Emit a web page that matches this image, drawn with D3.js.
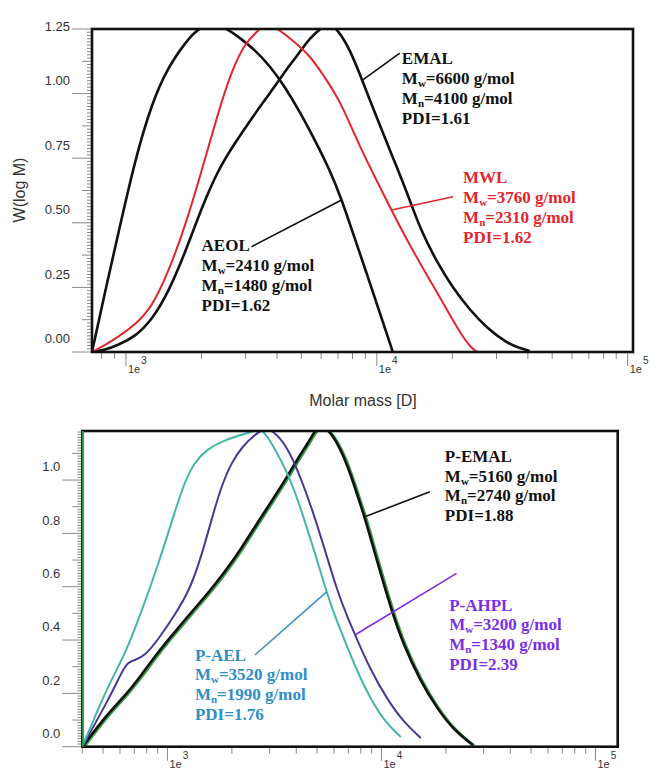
<!DOCTYPE html>
<html>
<head>
<meta charset="utf-8">
<script src="https://cdn.jsdelivr.net/npm/d3@7"></script>
<style>
    body { margin: 0; background: #fff; }
    .lbl { font-family: "Liberation Serif", "Times New Roman", serif; font-weight: bold; font-size: 17px; }
    .tick { font-family: "Liberation Sans", Arial, sans-serif; fill: #333; }
</style>
</head>
<body>
<div id="chart"></div>
<script>
// top panel - molar mass (g/mol) and W(log M)
var aeolM = [732, 825, 932, 1086, 1266, 1474, 1719, 1971, 2435, 2846, 3266, 3748, 4300, 4934, 5662, 6495, 7255, 8024, 9099, 10280, 11446, 11580]
var aeolW = [0, 0.233, 0.459, 0.743, 0.962, 1.104, 1.195, 1.265, 1.265, 1.215, 1.169, 1.107, 1.026, 0.929, 0.820, 0.704, 0.588, 0.461, 0.306, 0.151, 0.015, 0]

var mwlM = [732, 825, 929, 1086, 1269, 1470, 1719, 2008, 2326, 2645, 2980, 3357, 3515, 3853, 4502, 5409, 6206, 7121, 8557, 10280, 12350, 14840, 17820, 21420, 23900, 25260]
var mwlW = [0, 0.027, 0.058, 0.104, 0.174, 0.306, 0.484, 0.704, 0.925, 1.091, 1.196, 1.242, 1.265, 1.265, 1.215, 1.149, 1.062, 0.975, 0.793, 0.639, 0.484, 0.344, 0.213, 0.074, 0.012, 0]

var emalM = [732, 825, 929, 1086, 1269, 1470, 1719, 2008, 2326, 2719, 3177, 3679, 4106, 4502, 4934, 5409, 5929, 6300, 6700, 7255, 7804, 8557, 9377, 10570, 12010, 13540, 14840, 17340, 20090, 23480, 27440, 32960, 37120, 40700]
var emalW = [0, 0.008, 0.027, 0.059, 0.124, 0.228, 0.383, 0.561, 0.704, 0.809, 0.906, 0.991, 1.057, 1.111, 1.161, 1.215, 1.25, 1.265, 1.265, 1.223, 1.169, 1.076, 0.975, 0.848, 0.716, 0.588, 0.480, 0.348, 0.248, 0.163, 0.093, 0.035, 0.015, 0.004]

// bottom panel
var pemalM = [400, 528, 632, 756, 904, 1082, 1294, 1548, 1853, 2221, 2647, 3178, 3615, 4158, 4630, 4992, 5550, 6394, 7118, 7759, 8365, 9022, 9829, 11240, 12590, 15110, 18150, 21560, 26720]
var pemalW = [0, 0.126, 0.190, 0.269, 0.355, 0.430, 0.505, 0.576, 0.655, 0.745, 0.843, 0.940, 1.011, 1.094, 1.150, 1.200, 1.200, 1.124, 1.030, 0.937, 0.858, 0.765, 0.660, 0.502, 0.389, 0.250, 0.145, 0.066, 0.006]

var pahplM = [400, 538, 612, 655, 704, 783, 901, 1082, 1272, 1447, 1628, 1794, 1998, 2249, 2558, 2850, 3115, 3598, 4152, 4791, 5533, 6162, 6862, 7643, 8815, 10550, 12620, 15260]
var pahplW = [0, 0.186, 0.281, 0.318, 0.325, 0.340, 0.400, 0.494, 0.588, 0.719, 0.869, 0.981, 1.068, 1.128, 1.170, 1.195, 1.185, 1.131, 1.019, 0.881, 0.719, 0.594, 0.494, 0.407, 0.294, 0.182, 0.094, 0.033]

var paelM = [400, 528, 632, 756, 904, 1082, 1204, 1342, 1548, 1853, 2217, 2558, 2763, 3110, 3694, 4248, 4923, 5470, 6026, 6675, 7593, 8829, 10370, 12320]
var paelW = [0, 0.231, 0.344, 0.506, 0.681, 0.881, 0.994, 1.069, 1.119, 1.150, 1.170, 1.185, 1.195, 1.131, 1.019, 0.881, 0.719, 0.594, 0.494, 0.406, 0.294, 0.183, 0.093, 0.036]

// label texts
var topNames = ["EMAL", "MWL", "AEOL"]
var topMw = ["6600", "3760", "2410"]
var topMn = ["4100", "2310", "1480"]
var topPdi = ["1.61", "1.62", "1.62"]

var botNames = ["P-EMAL", "P-AHPL", "P-AEL"]
var botMw = ["5160", "3200", "3520"]
var botMn = ["2740", "1340", "1990"]
var botPdi = ["1.88", "2.39", "1.76"]

function zip(m, w) {
    return m.map(function (d, i) { return [d, w[i]] })
}

var svg = d3.select("#chart").append("svg")
    .attr("width", 652)
    .attr("height", 772)

function panel(cfg) {
    var x = d3.scaleLog().domain(cfg.xDomain).range(cfg.xRange)
    var y = d3.scaleLinear().domain(cfg.yDomain).range(cfg.yRange)
    var g = svg.append("g")
    var left = cfg.xRange[0], right = cfg.xRange[1], top = cfg.yRange[1], bottom = cfg.yRange[0]

    // y ticks: major / half / minor
    var step = cfg.yMajor / 20
    for (var i = 0; i * step <= cfg.yDomain[1] + 1e-9; i++) {
        var v = i * step
        var len = (i % 20 === 0) ? 20 : (i % 10 === 0 ? 10 : 5)
        g.append("line")
            .attr("x1", left - len).attr("x2", left)
            .attr("y1", y(v)).attr("y2", y(v))
            .attr("stroke", "#888").attr("stroke-width", 1)
        if (i % 20 === 0) {
            g.append("text").attr("class", "tick")
                .attr("x", left - 22)
                .attr("y", Math.max(y(v) - 12, top - 1))
                .attr("text-anchor", "end")
                .attr("dominant-baseline", "middle")
                .attr("font-size", 13)
                .text(d3.format(cfg.yFmt)(v))
        }
    }

    // x ticks (log)
    x.ticks().forEach(function (v) {
        var e = Math.log10(v)
        var major = Math.abs(e - Math.round(e)) < 1e-9
        g.append("line")
            .attr("x1", x(v)).attr("x2", x(v))
            .attr("y1", bottom).attr("y2", bottom + (major ? 14 : 7))
            .attr("stroke", "#888").attr("stroke-width", 1)
        if (major) {
            var t = g.append("text").attr("class", "tick")
                .attr("x", x(v) + 2).attr("y", bottom + 21)
                .attr("font-size", 11)
            t.append("tspan").text("1e")
            t.append("tspan").attr("dx", 1).attr("dy", -9).attr("font-size", 10).text(Math.round(e))
        }
    })

    // curves
    var clipId = "clip" + cfg.id
    svg.append("clipPath").attr("id", clipId)
        .append("rect").attr("x", left).attr("y", top)
        .attr("width", right - left).attr("height", bottom - top)

    var line = d3.line()
        .x(function (d) { return x(d[0]) })
        .y(function (d) { return y(d[1]) })
        .curve(d3.curveBasis)

    var cg = g.append("g").attr("clip-path", "url(#" + clipId + ")")
    cfg.series.forEach(function (s) {
        if (s.shadow) {
            cg.append("path").datum(s.data)
                .attr("d", line)
                .attr("fill", "none")
                .attr("stroke", s.shadow)
                .attr("stroke-width", s.width)
                .attr("transform", "translate(1.6,0.6)")
        }
        cg.append("path").datum(s.data)
            .attr("d", line)
            .attr("fill", "none")
            .attr("stroke", s.color)
            .attr("stroke-width", s.width)
            .attr("stroke-linejoin", "round")
    })

    // frame
    g.append("rect")
        .attr("x", left).attr("y", top)
        .attr("width", right - left).attr("height", bottom - top)
        .attr("fill", "none").attr("stroke", "#111").attr("stroke-width", 2.6)
    if (cfg.leftEdge) {
        g.append("line")
            .attr("x1", left + 0.5).attr("x2", left + 0.5)
            .attr("y1", top).attr("y2", bottom)
            .attr("stroke", cfg.leftEdge).attr("stroke-width", 2)
    }

    // annotations
    cfg.notes.forEach(function (n) {
        g.append("line")
            .attr("x1", x(n.lead[0][0])).attr("y1", y(n.lead[0][1]))
            .attr("x2", x(n.lead[1][0])).attr("y2", y(n.lead[1][1]))
            .attr("stroke", n.lineColor || n.color).attr("stroke-width", 1.6)
        var px = x(n.at[0]), py = y(n.at[1])
        var t = g.append("text").attr("class", "lbl").attr("fill", n.color)
        t.append("tspan").attr("x", px).attr("y", py).text(n.name)
        ;[["w", n.mw], ["n", n.mn]].forEach(function (d, i) {
            var yy = py + cfg.gap * (i + 1)
            t.append("tspan").attr("x", px).attr("y", yy).text("M")
            t.append("tspan").attr("y", yy + 3).attr("font-size", 11).text(d[0])
            t.append("tspan").attr("y", yy).text("=" + d[1] + " g/mol")
        })
        t.append("tspan").attr("x", px).attr("y", py + cfg.gap * 3).text("PDI=" + n.pdi)
    })
}

panel({
    id: "top",
    xDomain: [732, 105000], xRange: [92, 633],
    yDomain: [0, 1.25], yRange: [352, 29],
    yMajor: 0.25, yFmt: ".2f", gap: 20,
    series: [
        {data: zip(emalM, emalW), color: "#111", width: 2.6},
        {data: zip(aeolM, aeolW), color: "#111", width: 2.6},
        {data: zip(mwlM, mwlW), color: "#e3262b", width: 2}
    ],
    notes: [
        {name: topNames[0], mw: topMw[0], mn: topMn[0], pdi: topPdi[0], color: "#111",
            lead: [[8794, 1.053], [12350, 1.157]], at: [12580, 1.1146]},
        {name: topNames[1], mw: topMw[1], mn: topMn[1], pdi: topPdi[1], color: "#e3262b",
            lead: [[11446, 0.5495], [20140, 0.601]], at: [22070, 0.654]},
        {name: topNames[2], mw: topMw[2], mn: topMn[2], pdi: topPdi[2], color: "#111",
            lead: [[3168, 0.4075], [7234, 0.588]], at: [2002, 0.391]}
    ]
})

panel({
    id: "bot",
    xDomain: [400, 127000], xRange: [82.3, 617.7],
    yDomain: [0, 1.184], yRange: [746.7, 431],
    yMajor: 0.2, yFmt: ".1f", gap: 19.7,
    leftEdge: "#2f9a45",
    series: [
        {data: zip(pemalM, pemalW), color: "#111", width: 2.6, shadow: "#3aa04a"},
        {data: zip(pahplM, pahplW), color: "#4a3896", width: 2},
        {data: zip(paelM, paelW), color: "#45b5a8", width: 2}
    ],
    notes: [
        {name: botNames[0], mw: botMw[0], mn: botMn[0], pdi: botPdi[0], color: "#111",
            lead: [[8365, 0.8625], [16830, 0.956]], at: [19780, 1.068]},
        {name: botNames[1], mw: botMw[1], mn: botMn[1], pdi: botPdi[1], color: "#7a2fe6",
            lead: [[7514, 0.419], [22430, 0.650]], at: [20710, 0.51]},
        {name: botNames[2], mw: botMw[2], mn: botMn[2], pdi: botPdi[2], color: "#2e8ec6",
            lineColor: "#3a8fc0", lead: [[2563, 0.344], [5540, 0.581]], at: [1344, 0.3225]}
    ]
})

// axis titles (top panel)
svg.append("text").attr("class", "tick")
    .attr("transform", "translate(25,190) rotate(-90)")
    .attr("text-anchor", "middle")
    .attr("font-size", 16)
    .text("W(log M)")

svg.append("text").attr("class", "tick")
    .attr("x", 363).attr("y", 406)
    .attr("text-anchor", "middle")
    .attr("font-size", 16)
    .text("Molar mass [D]")
</script>
</body>
</html>
